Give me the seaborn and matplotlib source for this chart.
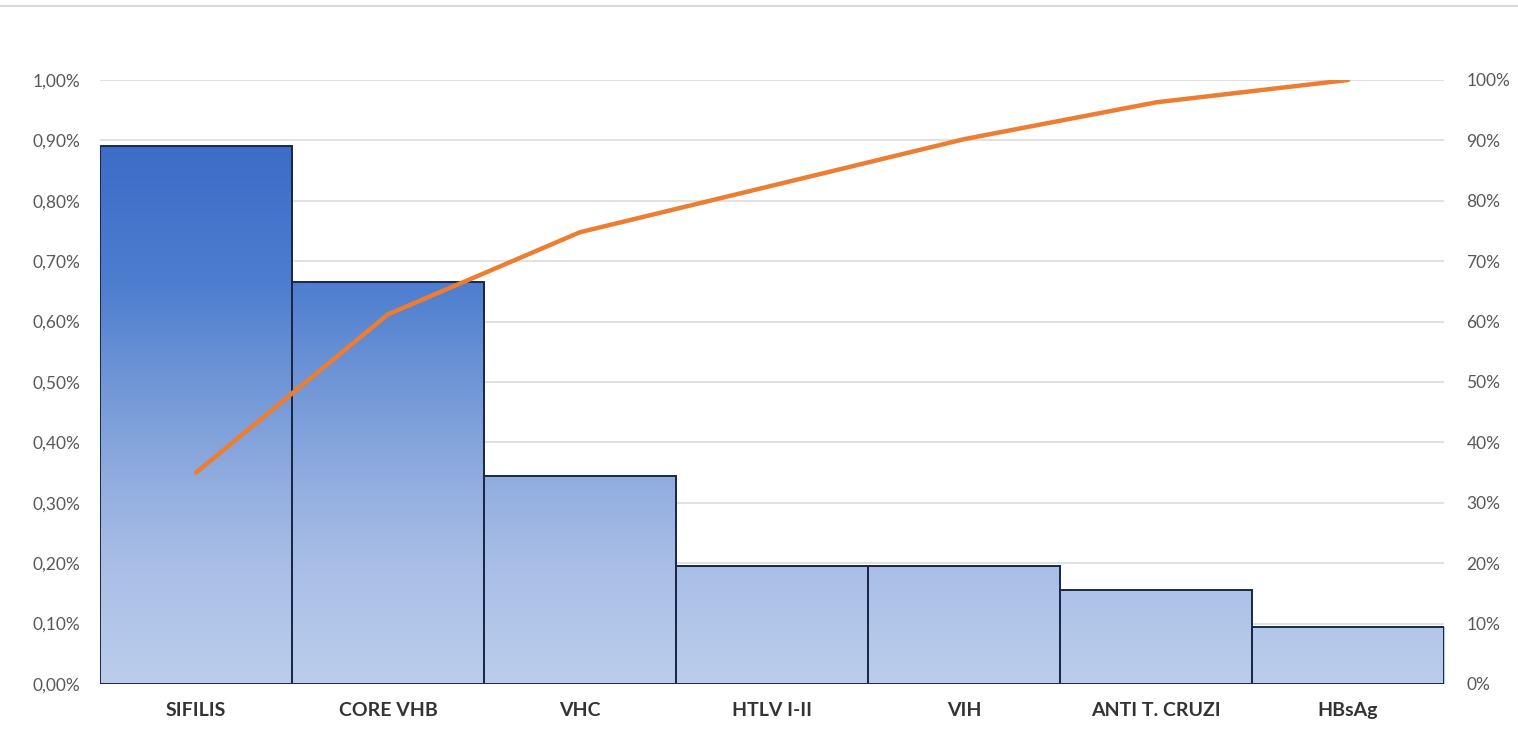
import numpy as np
import pandas as pd
import seaborn as sns
import matplotlib.pyplot as plt
from matplotlib.colors import LinearSegmentedColormap
from matplotlib.ticker import FuncFormatter


# =========================================================
# DATA
# =========================================================

categories = ["SIFILIS", "CORE VHB", "VHC", "HTLV I-II", "VIH", "ANTI T. CRUZI", "HBsAg"]
prevalence = [0.89, 0.665, 0.345, 0.195, 0.195, 0.155, 0.095]       # % (left axis)
cumulative = [35.0, 61.2, 74.8, 82.5, 90.2, 96.3, 100.0]           # % (right axis)

left_ticks = [0.0, 0.1, 0.2, 0.3, 0.4, 0.5, 0.6, 0.7, 0.8, 0.9, 1.0]
right_ticks = [0, 10, 20, 30, 40, 50, 60, 70, 80, 90, 100]

df = pd.DataFrame({"cat": categories, "val": prevalence, "cum": cumulative})


# =========================================================
# FIGURE
# =========================================================

sns.set_theme(style="white")
plt.rcParams["font.family"] = ["Lato", "DejaVu Sans"]

fig = plt.figure(figsize=(15.18, 7.42), dpi=100)
ax = fig.add_axes([0.0659, 0.0782, 0.8854, 0.8140])

# gridlines
for t in left_ticks[1:]:
    ax.axhline(t, color="#d9d9d9", lw=1.1, zorder=0)

sns.barplot(data=df, x="cat", y="val", ax=ax, width=1.0,
            color="#8eaadb", edgecolor="#1a2746", linewidth=1.4,
            saturation=1, zorder=2)

# vertical blue gradient clipped to each bar (stops as fractions of 0.9%)
cmap = LinearSegmentedColormap.from_list(
    "bluegrad",
    [(0.0, "#bccdeb"), (0.11, "#b2c6e9"), (0.22, "#a8bee6"),
     (0.38, "#90acdf"), (0.56, "#6f95d6"), (0.74, "#4d7dcf"), (1.0, "#3b6cc8")])
grad = np.linspace(0, 1, 256).reshape(-1, 1)
for patch in ax.patches:
    patch.set_facecolor("none")
    im = ax.imshow(grad, cmap=cmap, aspect="auto", origin="lower",
                   extent=[-0.5, 6.5, 0, 0.9], zorder=1.5)
    im.set_clip_path(patch)

ax.set_xlim(-0.5, 6.5)
ax.set_ylim(0, 1.0)
ax.set_yticks(left_ticks)
ax.yaxis.set_major_formatter(FuncFormatter(lambda v, p: f"{v:.2f}%".replace(".", ",")))
ax.set_xlabel("")
ax.set_ylabel("")
ax.tick_params(axis="y", length=0, pad=14, labelsize=12.5, labelcolor="#595959")
ax.tick_params(axis="x", length=0, pad=13, labelsize=14, labelcolor="#333333")
for lab in ax.get_xticklabels():
    lab.set_fontweight("bold")
for s in ax.spines.values():
    s.set_visible(False)

# cumulative line on secondary axis
ax2 = ax.twinx()
sns.lineplot(x=np.arange(len(categories)), y=df["cum"], ax=ax2,
             color="#ed7d31", lw=3.2, zorder=5)
ax2.set_ylim(0, 100)
ax2.set_yticks(right_ticks)
ax2.yaxis.set_major_formatter(FuncFormatter(lambda v, p: f"{v:.0f}%"))
ax2.set_ylabel("")
ax2.tick_params(axis="y", length=0, pad=16, labelsize=12.5, labelcolor="#595959")
for s in ax2.spines.values():
    s.set_visible(False)

# thin frame line along the top of the screenshot
fig.add_artist(plt.Line2D([0.0, 1.0], [0.992, 0.992], color="#d9d9d9", lw=1.5))

fig.savefig("out.png", dpi=100, facecolor="white")
